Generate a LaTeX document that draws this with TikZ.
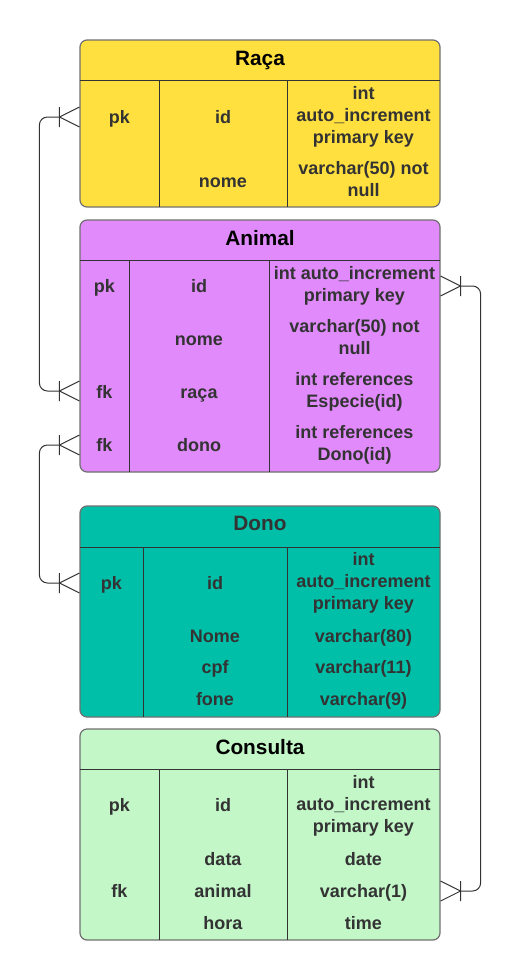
\documentclass[tikz,border=0pt]{standalone}
\usepackage{fontspec}
\setmainfont{Liberation Sans}
\usetikzlibrary{calc}
\definecolor{cyel}{HTML}{FFE03F}
\definecolor{cpur}{HTML}{E08AFB}
\definecolor{cteal}{HTML}{00BFA8}
\definecolor{cgreen}{HTML}{C3F7C8}
\definecolor{txt}{HTML}{333333}
\definecolor{bord}{HTML}{707070}
\newcommand\crowW[1]{\draw[rel] ([xshift=-20pt]#1) -- ([yshift=10pt]#1) ([xshift=-20pt]#1) -- ([yshift=-10pt]#1) ([xshift=-20pt,yshift=-10pt]#1) -- ([xshift=-20pt,yshift=10pt]#1);}
\newcommand\crowE[1]{\draw[rel] ([xshift=20pt]#1) -- ([yshift=10pt]#1) ([xshift=20pt]#1) -- ([yshift=-10pt]#1) ([xshift=20pt,yshift=-10pt]#1) -- ([xshift=20pt,yshift=10pt]#1);}
\begin{document}
\begin{tikzpicture}[x=1pt,y=-1pt,
  tbl/.style={draw=bord, line width=1.2pt, rounded corners=7pt, minimum width=360pt, inner sep=0pt},
  cell/.style={font=\fontsize{18}{22}\selectfont\bfseries, text=txt, align=center, inner sep=0pt,
    execute at begin node=\strut, execute at end node=\strut, yshift=-3pt},
  ttl/.style={font=\fontsize{20.8}{24}\selectfont\bfseries, text=black, inner sep=0pt,
    execute at begin node=\strut, yshift=-2.5pt},
  sepl/.style={draw=txt, line width=1pt},
  rel/.style={draw=txt, line width=1pt}]
\useasboundingbox (0,0) rectangle (521,980);

% ---------- Raça ----------
\node[tbl, fill=cyel, minimum height=167pt] (raca) at (260,123.5) {};
\draw[sepl] (80,80) -- (440,80) (159,80) -- (159,207) (287,80) -- (287,207);
\node[ttl] (racaT) at (260,58) {Raça};
\node[cell] (rpk) at (119.5,116) {pk};
\node[cell] (rid) at (223,116) {id};
\node[cell] (ridt) at (363.5,115) {int\\auto\_increment\\primary key};
\node[cell] (rnome) at (223,180) {nome};
\node[cell] (rnomet) at (363.5,179) {varchar(50) not\\null};

% ---------- Animal ----------
\node[tbl, fill=cpur, minimum height=252pt] (animal) at (260,346) {};
\draw[sepl] (80,260) -- (440,260) (129,260) -- (129,472) (269,260) -- (269,472);
\node[ttl] (animalT) at (260,238) {Animal};
\node[cell] (apk) at (104.5,285) {pk};
\node[cell] (aid) at (199,285) {id};
\node[cell] (aidt) at (354.5,284.5) {int auto\_increment\\primary key};
\node[cell] (anome) at (199,338) {nome};
\node[cell] (anomet) at (354.5,337) {varchar(50) not\\null};
\node[cell] (afk1) at (104.5,391) {fk};
\node[cell] (araca) at (199,391) {raça};
\node[cell] (aracat) at (354.5,390) {int references\\Especie(id)};
\node[cell] (afk2) at (104.5,444) {fk};
\node[cell] (adono) at (199,444) {dono};
\node[cell] (adonot) at (354.5,443) {int references\\Dono(id)};

% ---------- Dono ----------
\node[tbl, fill=cteal, minimum height=211pt] (dono) at (260,611.5) {};
\draw[sepl] (80,547) -- (440,547) (143,547) -- (143,717) (287,547) -- (287,717);
\node[ttl, text=txt] (donoT) at (260,523) {Dono};
\node[cell] (dpk) at (111.5,582) {pk};
\node[cell] (did) at (215,582) {id};
\node[cell] (didt) at (363.5,581) {int\\auto\_increment\\primary key};
\node[cell] (dnome) at (215,635) {Nome};
\node[cell] (dnomet) at (363.5,635) {varchar(80)};
\node[cell] (dcpf) at (215,666) {cpf};
\node[cell] (dcpft) at (363.5,666) {varchar(11)};
\node[cell] (dfone) at (215,698) {fone};
\node[cell] (dfonet) at (363.5,698) {varchar(9)};

% ---------- Consulta ----------
\node[tbl, fill=cgreen, minimum height=211pt] (cons) at (260,834.5) {};
\draw[sepl] (80,769) -- (440,769) (159,769) -- (159,940) (287,769) -- (287,940);
\node[ttl] (consT) at (260,747) {Consulta};
\node[cell] (cpk) at (119.5,804) {pk};
\node[cell] (cid) at (223,804) {id};
\node[cell] (cidt) at (363.5,804) {int\\auto\_increment\\primary key};
\node[cell] (cdata) at (223,858) {data};
\node[cell] (cdatat) at (363.5,858) {date};
\node[cell] (cfk) at (119.5,890) {fk};
\node[cell] (canimal) at (223,890) {animal};
\node[cell] (canimalt) at (363.5,890) {varchar(1)};
\node[cell] (chora) at (223,922) {hora};
\node[cell] (chorat) at (363.5,922) {time};

% ---------- connectors ----------
\coordinate (p1) at ($(raca.west |- rpk)+(0,-2)$);
\coordinate (p2) at ($(animal.west |- araca)+(0,-3)$);
\coordinate (p3) at ($(animal.west |- adono)+(0,-2)$);
\coordinate (p4) at ($(dono.west |- dpk)+(0,-2)$);
\coordinate (p5) at ($(animal.east |- apk)+(0,-2)$);
\coordinate (p6) at ($(cons.east |- canimal)+(0,-2)$);

\crowW{p1}\crowW{p2}\crowW{p3}\crowW{p4}
\crowE{p5}\crowE{p6}

\draw[rel, rounded corners=8pt] ([xshift=-20pt]p1) -- ([xshift=-40pt]p1) -- ([xshift=-40pt]p2) -- ([xshift=-20pt]p2);
\draw[rel, rounded corners=8pt] ([xshift=-20pt]p3) -- ([xshift=-40pt]p3) -- ([xshift=-40pt]p4) -- ([xshift=-20pt]p4);
\draw[rel, rounded corners=8pt] ([xshift=20pt]p5) -- ([xshift=40pt]p5) -- ([xshift=40pt]p6) -- ([xshift=20pt]p6);
\end{tikzpicture}
\end{document}
